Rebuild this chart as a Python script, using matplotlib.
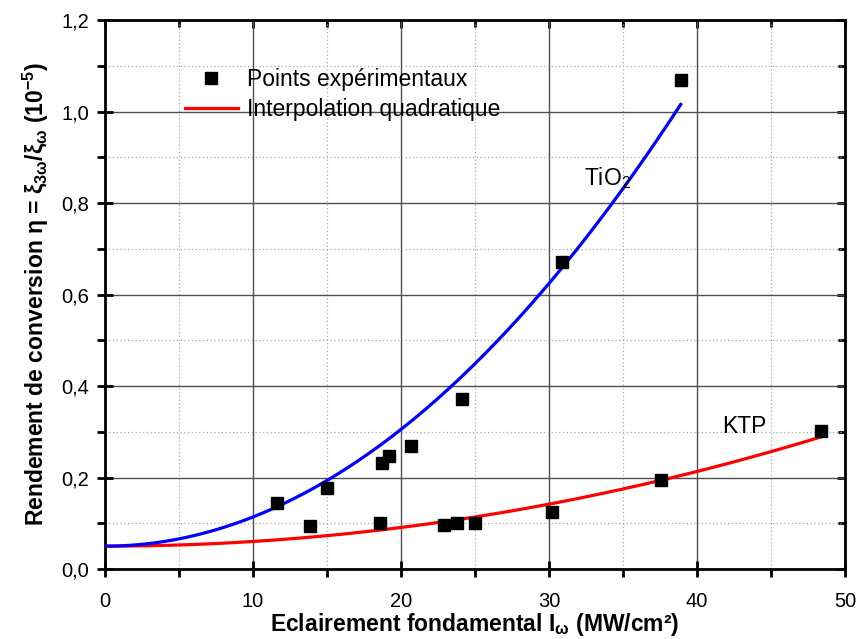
import numpy as np
import matplotlib
matplotlib.use("Agg")
import matplotlib.pyplot as plt
from matplotlib.ticker import MultipleLocator, FuncFormatter

plt.rcParams['font.family'] = ['Liberation Sans', 'DejaVu Sans']
plt.rcParams['mathtext.default'] = 'regular'

# points expérimentaux
tio2_x = [11.6, 15.0, 18.7, 19.2, 20.7, 24.1, 30.9, 38.9]
tio2_y = [0.145, 0.177, 0.232, 0.247, 0.268, 0.371, 0.671, 1.068]
ktp_x = [13.85, 18.6, 22.9, 23.8, 25.0, 30.2, 37.6, 48.4]
ktp_y = [0.093, 0.100, 0.096, 0.101, 0.101, 0.125, 0.194, 0.302]

# interpolation quadratique y = a*x^2 + b*x + c (coefficients)
tio2_fit = [6.38e-4, 0.0, 0.05]
ktp_fit = [1.02e-4, 0.0, 0.05]
tio2_xmax = 38.9
ktp_xmax = 48.4

fig = plt.figure(figsize=(8.58, 6.39), dpi=100)
ax = fig.add_axes([0.1224, 0.1095, 0.8624, 0.8592])

xs1 = np.linspace(0, tio2_xmax, 200)
xs2 = np.linspace(0, ktp_xmax, 200)
ax.plot(xs2, np.polyval(ktp_fit, xs2), color='#ff0000', lw=2.3, zorder=3,
        label='Interpolation quadratique')
ax.plot(xs1, np.polyval(tio2_fit, xs1), color='#0000ff', lw=2.3, zorder=3)
ax.plot(tio2_x + ktp_x, tio2_y + ktp_y, 's', color='black', ms=8.5, ls='none',
        zorder=4, label='Points expérimentaux')

ax.set_xlim(0, 50)
ax.set_ylim(0, 1.2)
ax.xaxis.set_major_locator(MultipleLocator(10))
ax.xaxis.set_minor_locator(MultipleLocator(5))
ax.yaxis.set_major_locator(MultipleLocator(0.2))
ax.yaxis.set_minor_locator(MultipleLocator(0.1))
ax.yaxis.set_major_formatter(FuncFormatter(lambda v, p: f"{v:.1f}".replace('.', ',')))

ax.grid(which='major', color='#505050', lw=1.0, ls='-')
ax.grid(which='minor', color='#a8a8a8', lw=0.9, ls=(0, (1, 2)))
ax.set_axisbelow(True)

for s in ax.spines.values():
    s.set_linewidth(2.0)

ax.tick_params(which='major', direction='inout', length=11, width=2.0, labelsize=14.5)
ax.tick_params(which='minor', direction='out', length=6, width=2.0)
ax.tick_params(axis='x', which='major', pad=11)
ax.tick_params(axis='y', which='major', pad=6)

# ticks intérieurs en haut et à droite
top = ax.secondary_xaxis('top')
top.xaxis.set_major_locator(MultipleLocator(10))
top.xaxis.set_minor_locator(MultipleLocator(5))
top.tick_params(which='major', direction='in', length=6, width=2.0, labeltop=False)
top.tick_params(which='minor', direction='in', length=5, width=2.0)
right = ax.secondary_yaxis('right')
right.yaxis.set_major_locator(MultipleLocator(0.2))
right.yaxis.set_minor_locator(MultipleLocator(0.1))
right.tick_params(which='major', direction='in', length=6, width=2.0, labelright=False)
right.tick_params(which='minor', direction='in', length=5, width=2.0)

ax.set_xlabel(r'Eclairement fondamental I$_{\omega}$ (MW/cm²)', fontsize=16.5,
              fontweight='bold', labelpad=0)
ax.set_ylabel(r'Rendement de conversion η = ξ$_{3\omega}$/ξ$_{\omega}$ (10$^{-5}$)',
              fontsize=16.5, fontweight='bold', labelpad=7)

ax.text(32.4, 0.839, r'TiO$_2$', fontsize=16.5)
ax.text(41.7, 0.297, 'KTP', fontsize=16.5)

h, l = ax.get_legend_handles_labels()
ax.legend(h[::-1], l[::-1], loc='upper left', bbox_to_anchor=(0.08, 0.95),
          frameon=False, fontsize=16.5, handlelength=2.3, handletextpad=0.4,
          labelspacing=0.3)

fig.savefig('out.png', dpi=100)
